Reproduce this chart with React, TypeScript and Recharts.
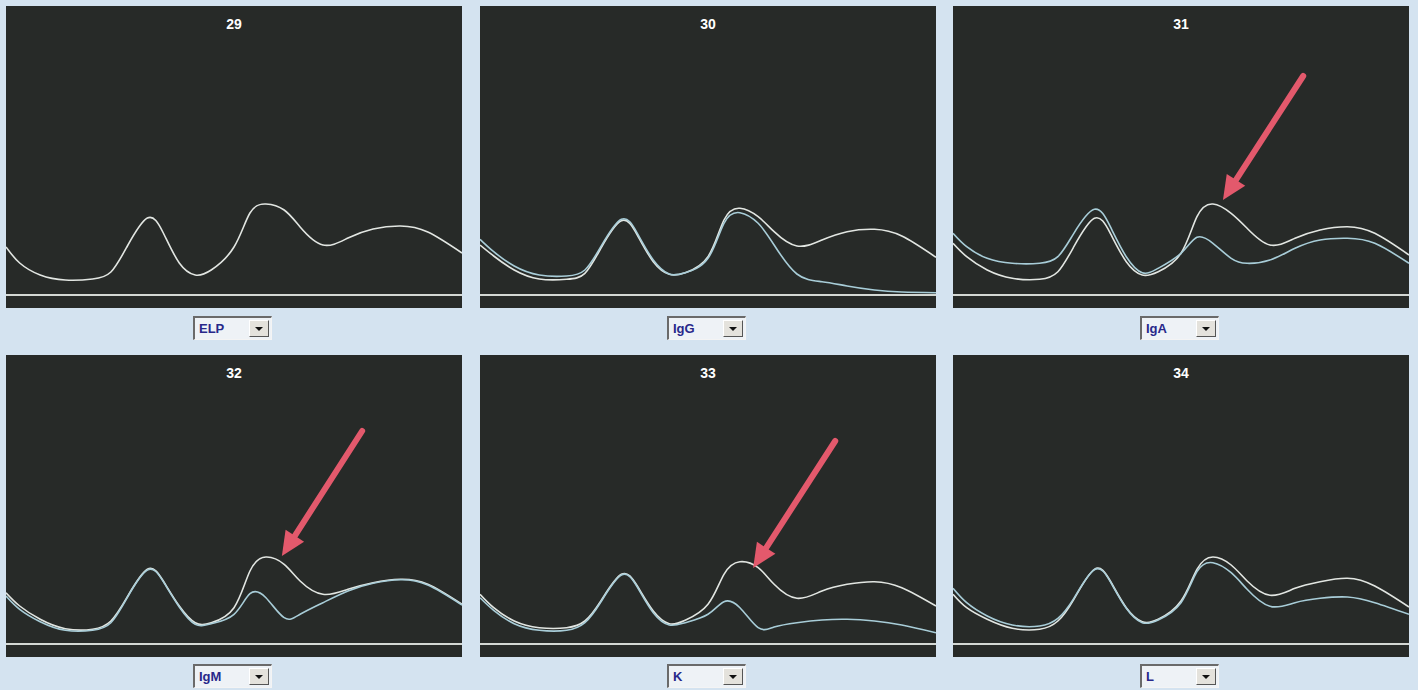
import React from "react";
import { LineChart, Line, XAxis, YAxis, ReferenceLine } from "recharts";

// Shared migration positions (percent of panel width)
const positions = [0, 3, 7.5, 13, 19, 23, 26.5, 31, 34.5, 38, 41.5, 45, 50, 53.5, 57, 61, 64.5, 69.5, 75, 80.5, 86.5, 92.5, 100];

// Panel titles and selector labels
const titles = ["29", "30", "31", "32", "33", "34"];
const selectorLabels = ["ELP", "IgG", "IgA", "IgM", "K", "L"];

// Reference (ELP) curves per panel
const elp29 = [48, 32, 20, 15, 16, 23, 48, 77, 62, 32, 20, 25, 48, 82, 91, 85, 68, 50, 57, 66, 69, 63, 42];
const elp30 = [50, 39, 25, 16, 15.7, 21.7, 46.7, 74.3, 60, 33.3, 20.7, 22.3, 38.3, 75, 86.7, 78.3, 63.3, 49, 55, 63.3, 65.7, 59, 37.7];
const elp31 = [51.7, 38.3, 25, 16.7, 15.7, 23.3, 48.3, 76.7, 61.7, 33.3, 20, 23.3, 41.7, 78.3, 91, 81.7, 66.7, 50, 56.7, 65, 68.3, 61.7, 40];
const elp32 = [51.3, 38, 24.7, 15.3, 14.7, 23, 46.3, 74.7, 63, 38, 21.3, 21.3, 36.3, 73, 87, 79.7, 63, 49.7, 54.7, 61.3, 64.7, 59.7, 39.7];
const elp33 = [49.7, 36.3, 23, 16.3, 16.3, 23, 43, 69.7, 58, 33, 20.3, 23.7, 39.7, 69.7, 82.3, 76.3, 59.7, 45.7, 53, 59.7, 62.3, 56.3, 38];
const elp34 = [49.7, 36.3, 24.7, 15.7, 14.7, 23, 44.7, 74.7, 63, 36.3, 22.3, 24.7, 43, 74.7, 87, 79, 63, 48.7, 55.7, 62.3, 65.7, 58, 37];

// Immunosubtraction curves per panel
const igG = [55.7, 43.3, 29, 20, 19, 25, 48.3, 75.7, 61.7, 35, 21, 22.3, 36.7, 71.7, 82.3, 71.7, 50, 21, 13.3, 9, 5, 3, 2.3];
const igA = [61.7, 48.3, 36.7, 31.7, 31.7, 38.3, 61.7, 85.7, 68.3, 38.3, 22.3, 26.7, 41.7, 57.7, 51.7, 36.7, 31.7, 35, 46.7, 55, 56.7, 51.7, 31.7];
const igM = [48, 34.7, 22.3, 13.7, 13.7, 21.3, 45.7, 74, 62.3, 37, 19.7, 20.3, 29.7, 50.3, 46.3, 26.3, 29.7, 41.3, 53, 60.7, 64.3, 59, 39];
const kappa = [46.3, 33.7, 20.3, 13.7, 13.7, 21.3, 42, 69, 57, 31.3, 19, 21.3, 29.7, 42.3, 36.3, 16.3, 17, 21.3, 24, 24.7, 23, 19, 11.3];
const lambda = [55.7, 41.3, 28, 19, 18, 25.7, 45.7, 74.3, 62.3, 35.7, 21.3, 24, 41.3, 72.3, 81.3, 71.3, 54.7, 37.7, 41.3, 45.7, 47, 41.3, 29.7];

// Annotation arrows: [tailX, tailY, tipX, tipY] in data units (null = none)
const arrows: (number[] | null)[] = [
  null,
  null,
  [76.8, 219, 59.2, 95],
  [78.1, 213, 60.5, 88],
  [77.9, 203, 59.9, 76],
  null,
];

const refSeries = [elp29, elp30, elp31, elp32, elp33, elp34];
const subSeries: (number[] | null)[] = [null, igG, igA, igM, kappa, lambda];

const PANEL_W = 456;
const PANEL_H = 302;
const lefts = [6, 480, 953];
const tops = [6, 355];
const BG = "#d4e3f0";
const DARK = "#272a28";
const REF_COLOR = "#e2e6e2";
const SUB_COLOR = "#a8cdd8";
const ARROW_COLOR = "#e3596c";

function ArrowShape(p: any) {
  const x1 = Number(p.x1), y1 = Number(p.y1), x2 = Number(p.x2), y2 = Number(p.y2);
  const dx = x2 - x1, dy = y2 - y1;
  const L = Math.hypot(dx, dy) || 1;
  const ux = dx / L, uy = dy / L;
  const hl = 24, hw = 11;
  const bx = x2 - ux * hl, by = y2 - uy * hl;
  const px = -uy, py = ux;
  return (
    <g>
      <line x1={x1} y1={y1} x2={bx + ux * 3} y2={by + uy * 3} stroke={ARROW_COLOR} strokeWidth={6} strokeLinecap="round" />
      <polygon points={`${x2},${y2} ${bx + px * hw},${by + py * hw} ${bx - px * hw},${by - py * hw}`} fill={ARROW_COLOR} />
    </g>
  );
}

function Panel({ idx }: { idx: number }) {
  const row = Math.floor(idx / 3);
  const col = idx % 3;
  const ref = refSeries[idx];
  const sub = subSeries[idx];
  const data = positions.map((x, i) => ({ x, a: ref[i], b: sub ? sub[i] : undefined }));
  const arrow = arrows[idx];
  const left = lefts[col];
  const top = tops[row];
  return (
    <>
      <div style={{ position: "absolute", left, top, width: PANEL_W, height: PANEL_H, background: DARK }}>
        <LineChart width={PANEL_W} height={PANEL_H} data={data} margin={{ top: 0, right: 0, bottom: 13, left: 0 }}>
          <XAxis dataKey="x" type="number" domain={[0, 100]} hide />
          <YAxis type="number" domain={[0, 289]} hide />
          <ReferenceLine y={0} stroke="#d4d8d4" strokeWidth={2} ifOverflow="visible" />
          <Line type="natural" dataKey="a" stroke={REF_COLOR} strokeWidth={1.6} dot={false} isAnimationActive={false} />
          {sub && (
            <Line type="natural" dataKey="b" stroke={SUB_COLOR} strokeWidth={1.6} dot={false} isAnimationActive={false} />
          )}
          {arrow && (
            <ReferenceLine
              segment={[{ x: arrow[0], y: arrow[1] }, { x: arrow[2], y: arrow[3] }]}
              shape={ArrowShape}
              ifOverflow="visible"
            />
          )}
        </LineChart>
        <div
          style={{
            position: "absolute",
            left: 0,
            top: 10,
            width: PANEL_W,
            textAlign: "center",
            color: "#ffffff",
            fontFamily: "'Liberation Sans', Arial, sans-serif",
            fontWeight: "bold",
            fontSize: 14,
            lineHeight: "16px",
          }}
        >
          {titles[idx]}
        </div>
      </div>
      <div
        style={{
          position: "absolute",
          left: left + PANEL_W / 2 - 41,
          top: row === 0 ? 316 : 664,
          width: 79,
          height: 24,
          boxSizing: "border-box",
          background: "#eef2f6",
          borderTop: "2px solid #6a6a6a",
          borderLeft: "2px solid #6a6a6a",
          borderRight: "1px solid #f4f4f4",
          borderBottom: "1px solid #f4f4f4",
        }}
      >
        <span
          style={{
            position: "absolute",
            left: 4,
            top: 2,
            color: "#28288a",
            fontFamily: "'Liberation Sans', Arial, sans-serif",
            fontWeight: "bold",
            fontSize: 13,
            lineHeight: "18px",
          }}
        >
          {selectorLabels[idx]}
        </span>
        <div
          style={{
            position: "absolute",
            right: 2,
            top: 2,
            width: 20,
            height: 17,
            boxSizing: "border-box",
            background: "#e4e2dc",
            borderTop: "1px solid #ffffff",
            borderLeft: "1px solid #ffffff",
            borderRight: "1px solid #555",
            borderBottom: "1px solid #555",
          }}
        >
          <div
            style={{
              position: "absolute",
              left: 5,
              top: 6,
              width: 0,
              height: 0,
              borderLeft: "4px solid transparent",
              borderRight: "4px solid transparent",
              borderTop: "4px solid #111",
            }}
          />
        </div>
      </div>
    </>
  );
}

export default function App() {
  return (
    <div style={{ position: "absolute", left: 0, top: 0, width: 1418, height: 690, background: BG, overflow: "hidden" }}>
      {titles.map((_, i) => (
        <Panel key={i} idx={i} />
      ))}
    </div>
  );
}
